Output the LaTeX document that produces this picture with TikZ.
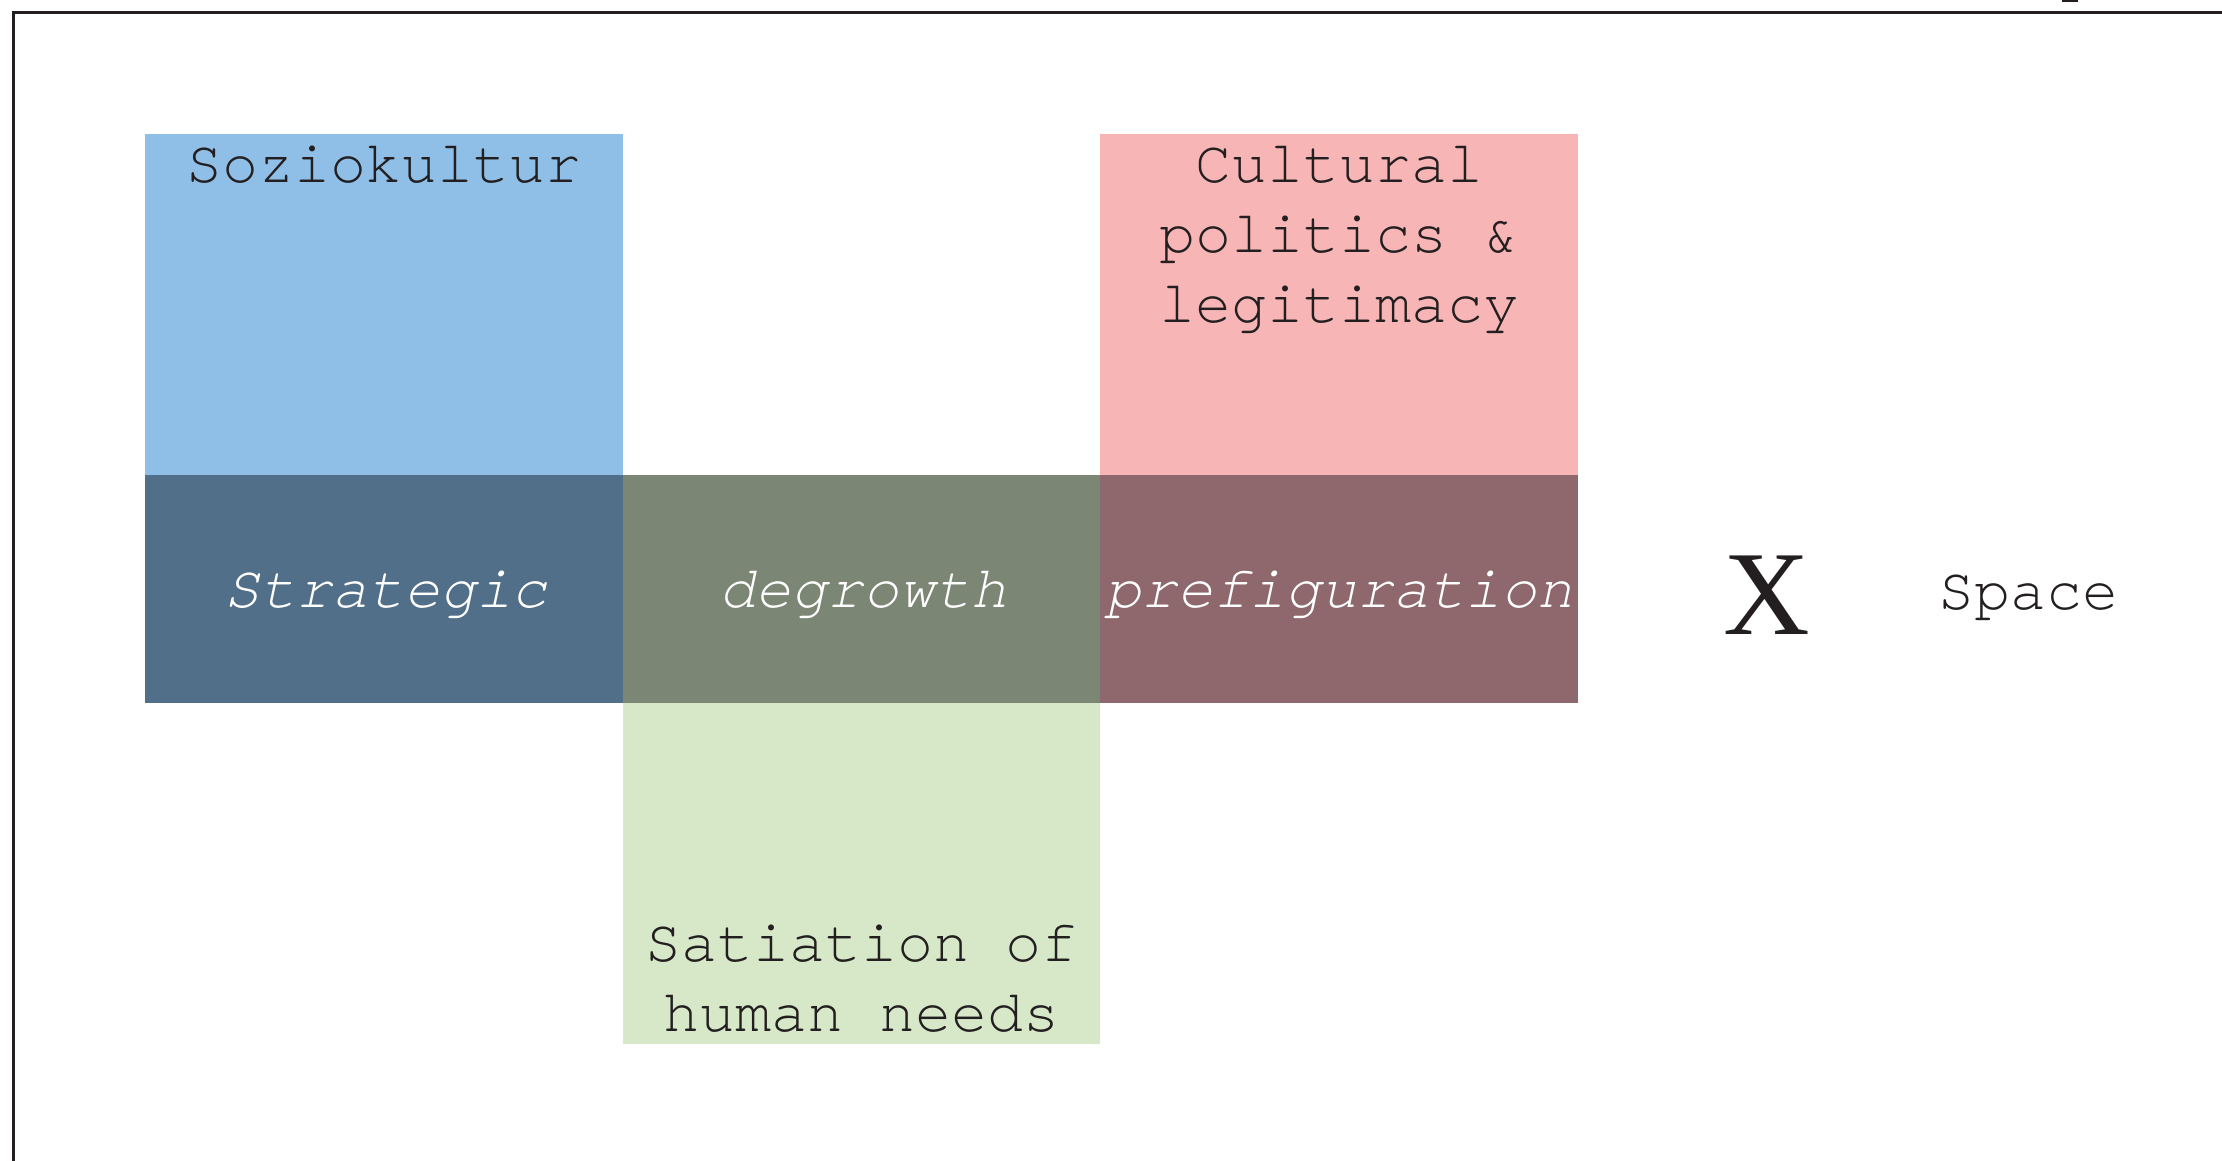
\documentclass[tikz,border=0pt]{standalone}
\usepackage{fontspec}
\newfontfamily\monofont{TeX Gyre Cursor}[Ligatures=NoCommon]
\newfontfamily\xfont{Liberation Serif}
\definecolor{frame}{HTML}{231F20}
\definecolor{lblue}{HTML}{8FBFE7}
\definecolor{dblue}{HTML}{516F89}
\definecolor{dgreen}{HTML}{7B8674}
\definecolor{dred}{HTML}{8E686C}
\definecolor{lpink}{HTML}{F7B5B6}
\definecolor{lgreen}{HTML}{D6E8C7}
\definecolor{txt}{HTML}{231F20}
\tikzset{
  lbl/.style={inner sep=0pt, anchor=base, text=txt, font=\monofont\fontsize{18}{21}\selectfont},
  ilbl/.style={lbl, text=white, font=\monofont\itshape\fontsize{18}{21}\selectfont},
}
\begin{document}
\begin{tikzpicture}[x=0.3pt,y=-0.3pt]
\useasboundingbox (0,0) rectangle (2222,1161);
\fill[white] (0,0) rectangle (2222,1161);
% cells
\fill[lblue] (145,134) rectangle (623,475);
\fill[lpink] (1100,134) rectangle (1578,475);
\fill[dblue] (145,475) rectangle (623,703);
\fill[dgreen] (623,475) rectangle (1100,703);
\fill[dred] (1100,475) rectangle (1578,703);
\fill[lgreen] (623,703) rectangle (1100,1044);
% frame
\draw[frame, line width=0.9pt] (13,1170) -- (13,12.5) -- (2230,12.5);
\fill[frame] (2062,0) rectangle (2078,2.5);
% labels
\node[lbl] (soz) at (384,183) {Soziokultur};
\node[lbl] (cult1) at (1339,183) {Cultural};
\node[lbl] (cult2) at (1339,253) {politics \&};
\node[lbl] (cult3) at (1339,323) {legitimacy};
\node[ilbl] (strat) at (386,608) {Strategic};
\node[ilbl] (degr) at (863,608) {degrowth};
\node[ilbl] (pref) at (1339,608) {prefiguration};
\node[lbl] (sat1) at (861,962) {Satiation of};
\node[lbl] (sat2) at (861,1032) {human needs};
\node[inner sep=0pt, anchor=base, text=txt, font=\xfont\fontsize{36}{40}\selectfont] (x) at (1767,635) {X};
\node[lbl] (space) at (2028,610) {Space};
\end{tikzpicture}
\end{document}
